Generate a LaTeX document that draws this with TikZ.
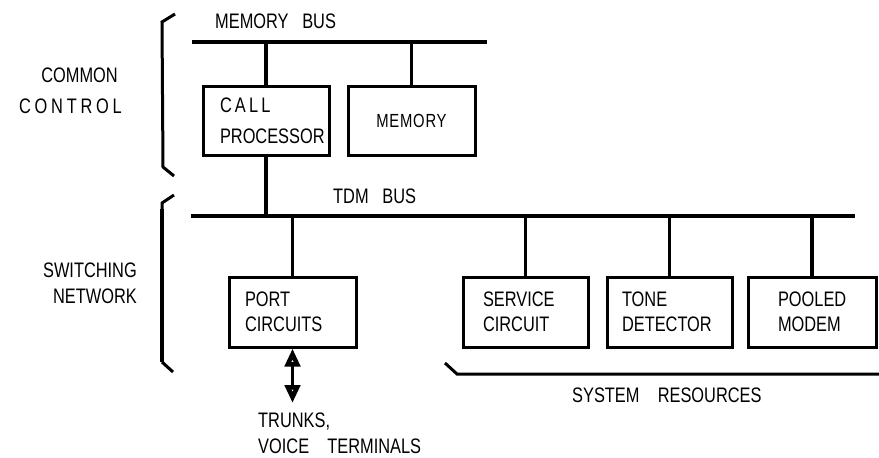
\documentclass[tikz,border=0pt]{standalone}
\usepackage{fontspec}
\setmainfont[FakeStretch=0.78]{Liberation Sans}
\usetikzlibrary{arrows.meta}
\tikzset{
  bus/.style={line width=4.5pt},
  link/.style={line width=3.5pt},
  brk/.style={line width=3pt},
  box/.style={draw, line width=3pt, align=left, inner ysep=0pt, font=\fontsize{21}{25}\selectfont},
  lbl/.style={inner sep=0pt, font=\fontsize{21}{25}\selectfont},
  spaced/.style={font=\fontsize{21}{25}\selectfont\addfontfeature{LetterSpace=18}},
  opentri/.tip={Triangle[open,length=18pt,width=15pt,line width=4.5pt]}
}
\begin{document}
\begin{tikzpicture}[x=1pt,y=-1pt]
\useasboundingbox (0,0) rectangle (879,458);
% buses
\coordinate (mb1) at (192,42);
\coordinate (mb2) at (487,42);
\coordinate (tb1) at (191,216);
\coordinate (tb2) at (855,216);
\draw[bus] (mb1) -- (mb2);
\draw[bus] (tb1) -- (tb2);
% boxes
\node[box, text width=92pt, inner xsep=17pt, minimum height=69pt] (cp) at (266,120.5)
  {{\addfontfeature{LetterSpace=15}CALL}\\[6pt]PROCESSOR};
\node[box, align=center, text width=127pt, inner xsep=0pt, minimum height=69pt,
  font=\fontsize{19}{22}\selectfont\addfontfeature{LetterSpace=4}] (mem) at (411.5,120.5) {MEMORY};
\node[box, text width=95pt, inner xsep=16pt, minimum height=70pt] (port) at (292.5,312) {PORT\\CIRCUITS};
\node[box, text width=85pt, inner xsep=20pt, minimum height=70pt] (serv) at (525.5,312) {SERVICE\\CIRCUIT};
\node[box, text width=95pt, inner xsep=15pt, minimum height=70pt] (tone) at (669.5,312) {TONE\\DETECTOR};
\node[box, text width=68pt, inner xsep=30pt, minimum height=70pt] (pool) at (812,312) {POOLED\\MODEM};
% connectors
\draw[link] (cp.north) -- (cp.north |- mb1);
\draw[link] (mem.north) -- (mem.north |- mb1);
\draw[link] (cp.south) -- (cp.south |- tb1);
\draw[link] (port.north) -- (port.north |- tb1);
\draw[link] (serv.north) -- (serv.north |- tb1);
\draw[link] (tone.north) -- (tone.north |- tb1);
\draw[link] (pool.north) -- (pool.north |- tb1);
% arrow
\coordinate (tend) at (292.5,403);
\draw[line width=2.5pt, opentri-opentri] (port.south) -- (tend);
% brackets
\draw[brk] (175,14) -- (162,22) -- (163,167) -- (174,176);
\draw[brk] (174,195) -- (162,203) -- (162,211);
\draw[line width=4pt] (162,209) -- (162,362);
\draw[brk] (162,362) -- (173,372);
\draw[brk] (445,363) -- (457,374) -- (879,374);
% labels
\node[lbl, anchor=base west] (mbl) at (215,28) {MEMORY\ \ \ BUS};
\node[lbl, anchor=base west] (tbl) at (333,203) {TDM\ \ \ BUS};
\node[lbl, anchor=base east] (cc1) at (118,82) {COMMON};
\node[lbl, spaced, anchor=base east] (cc2) at (122,113) {CONTROL};
\node[lbl, anchor=base east] (sw1) at (137,277) {SWITCHING};
\node[lbl, anchor=base east] (sw2) at (137,303) {NETWORK};
\node[lbl, anchor=base west] (sr) at (572,402) {SYSTEM\ \ \ \ RESOURCES};
\node[lbl, anchor=base west] (tr1) at (258,427) {TRUNKS,};
\node[lbl, anchor=base west] (tr2) at (258,453) {VOICE\ \ \ \ TERMINALS};
\end{tikzpicture}
\end{document}
